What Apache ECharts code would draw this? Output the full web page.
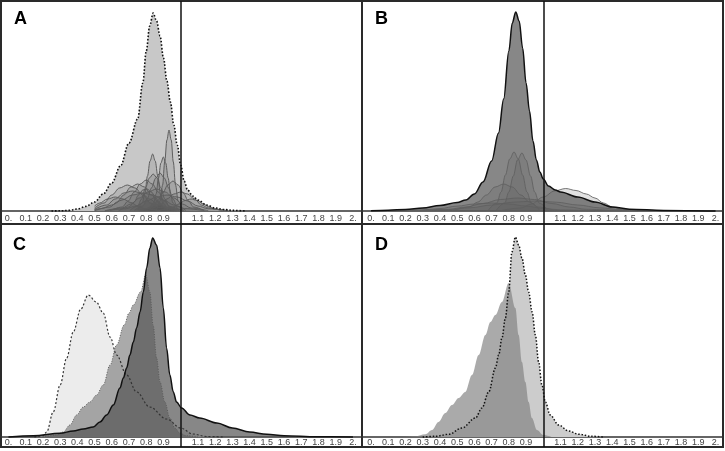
<!DOCTYPE html>
<html><head><meta charset="utf-8">
<script src="https://cdn.jsdelivr.net/npm/echarts@6/dist/echarts.min.js"></script>
<style>html,body{margin:0;padding:0;background:#fff}#c{width:725px;height:451px}</style>
</head><body><div id="c"></div>
<script>
// ---------- tick labels ----------
const xTickValues = [0,0.1,0.2,0.3,0.4,0.5,0.6,0.7,0.8,0.9,1.1,1.2,1.3,1.4,1.5,1.6,1.7,1.8,1.9,2];
const xTickLabels = ['0.','0.1','0.2','0.3','0.4','0.5','0.6','0.7','0.8','0.9','1.1','1.2','1.3','1.4','1.5','1.6','1.7','1.8','1.9','2.'];
const panelLetters = ['A','B','C','D'];
const refLine = 1;

// ---------- Panel A ----------
const aMain = [[0.25,0],[0.3,0.2],[0.35,0.6],[0.4,2],[0.45,4.6],[0.5,9],[0.55,17],[0.6,28],[0.65,45],[0.7,68],[0.75,92],[0.78,128],[0.8,160],[0.82,185],[0.84,198],[0.86,190],[0.88,175],[0.9,153],[0.92,130],[0.94,109],[0.96,86],[0.98,66],[1.0,46],[1.02,30],[1.04,21],[1.07,15],[1.1,11],[1.15,6],[1.2,3],[1.25,1.5],[1.3,0.6],[1.38,0]];
const aComp1 = [[0.86,1],[0.88,10],[0.895,26],[0.907,49],[0.92,71],[0.932,81],[0.945,71],[0.957,49],[0.97,26],[0.985,10],[1.01,1]];
const aComp2 = [[0.75,1],[0.777,8],[0.792,18],[0.807,35],[0.822,50],[0.837,57],[0.852,50],[0.867,35],[0.882,18],[0.897,8],[0.925,1]];
const aComp3 = [[0.815,1],[0.843,8],[0.857,17],[0.871,33],[0.885,48],[0.899,54],[0.913,48],[0.927,33],[0.941,17],[0.955,8],[0.985,1]];
const aComp4 = [[0.705,0.5],[0.75,5],[0.773,12],[0.795,23],[0.818,33],[0.84,37],[0.863,33],[0.885,23],[0.908,12],[0.93,5],[0.975,0.5]];
const aComp5 = [[0.73,0.5],[0.78,5],[0.805,12],[0.83,23],[0.855,33],[0.88,38],[0.905,33],[0.93,23],[0.955,12],[0.98,5],[1.03,0.5]];
const aComp6 = [[0.5,3],[0.555,8],[0.6,16],[0.645,23],[0.69,26],[0.735,23],[0.78,16],[0.825,8],[0.87,3.6],[0.96,0.3]];
const aComp7 = [[0.5,0.3],[0.59,4],[0.63,9],[0.67,16],[0.71,24],[0.75,27],[0.79,24],[0.83,16],[0.87,9],[0.91,4],[0.99,0.3]];
const aComp8 = [[0.59,0.3],[0.66,4],[0.695,10],[0.73,19],[0.765,27],[0.8,31],[0.835,27],[0.87,19],[0.905,10],[0.94,4],[1.01,0.3]];
const aComp9 = [[0.775,0.3],[0.835,4],[0.865,10],[0.895,18],[0.925,26],[0.955,30],[0.985,26],[1.015,18],[1.045,10],[1.075,4],[1.135,0.3]];
const aComp10 = [[0.76,0.2],[0.84,3],[0.88,6],[0.92,12],[0.96,17],[1.0,19],[1.04,17],[1.08,12],[1.12,6],[1.16,3],[1.24,0.2]];
const aComp11 = [[0.5,1.2],[0.54,2.5],[0.6,6],[0.66,11],[0.72,16],[0.78,18],[0.84,16],[0.9,11],[0.96,6],[1.02,2.5],[1.14,0.2]];
const aComp12 = [[0.56,0.2],[0.66,3],[0.71,7],[0.76,13],[0.81,19],[0.86,22],[0.91,19],[0.96,13],[1.01,7],[1.06,3],[1.16,0.2]];
const aComp13 = [[0.5,1.8],[0.57,6],[0.62,12],[0.67,18],[0.72,20],[0.77,18],[0.82,12],[0.87,6],[0.92,2.7],[1.02,0.2]];
const aComp14 = [[0.56,0.2],[0.68,2.2],[0.74,5],[0.8,10],[0.86,14],[0.92,16],[0.98,14],[1.04,10],[1.1,5],[1.16,2.2],[1.28,0.2]];
const aComp15 = [[0.5,5],[0.53,8],[0.575,12],[0.62,14],[0.665,12],[0.71,8.5],[0.755,4.5],[0.8,2],[0.89,0.2]];
const aComp16 = [[0.85,0.1],[0.92,1.7],[0.955,4],[0.99,7],[1.025,10.5],[1.06,12],[1.095,10.5],[1.13,7],[1.165,4],[1.2,1.7],[1.27,0.1]];
const aComp17 = [[0.64,0.3],[0.7,4],[0.73,9],[0.755,16],[0.78,21],[0.805,22],[0.83,19],[0.855,13],[0.88,7],[0.91,3],[0.97,0.3]];

// ---------- Panel B ----------
const bMain = [[0,0.3],[0.1,0.8],[0.2,1.5],[0.3,3],[0.4,5.5],[0.5,8.5],[0.55,11],[0.6,17],[0.65,29],[0.7,50],[0.74,78],[0.77,112],[0.8,160],[0.82,188],[0.84,199],[0.86,190],[0.88,163],[0.9,128],[0.92,100],[0.94,70],[0.96,51],[0.98,39],[1.0,32],[1.03,25],[1.07,21],[1.1,19],[1.2,14],[1.3,9],[1.4,4],[1.5,1.8],[1.7,0.5],[2,0]];
const bComp1 = [[0.68,0.6],[0.73,8],[0.755,19],[0.78,36],[0.805,52],[0.83,59],[0.855,52],[0.88,36],[0.905,19],[0.93,8],[0.98,0.6]];
const bComp2 = [[0.726,0.6],[0.776,8],[0.8,19],[0.826,35],[0.85,51],[0.876,58],[0.9,51],[0.926,35],[0.95,19],[0.976,8],[1.026,0.6]];
const bComp3 = [[0.47,0.3],[0.57,4],[0.62,9],[0.67,16],[0.72,24],[0.77,27],[0.82,24],[0.87,16],[0.92,9],[0.97,4],[1.07,0.3]];
const bComp4 = [[0.75,0.3],[0.87,3],[0.93,7],[1.0,14],[1.065,20],[1.13,22.5],[1.19,20.5],[1.25,17],[1.3,13],[1.35,8],[1.4,4],[1.47,1],[1.55,0]];
const bComp5 = [[0.25,0.2],[0.45,1.7],[0.55,4],[0.65,7.5],[0.75,11.5],[0.85,13],[0.95,11.5],[1.05,7.5],[1.15,4],[1.25,1.7],[1.45,0.2]];
const bComp6 = [[0.2,0.1],[0.45,1.4],[0.575,3.2],[0.7,6],[0.825,8.8],[0.95,10],[1.075,8.8],[1.2,6],[1.325,3.2],[1.45,1.4],[1.7,0.1]];
const bComp7 = [[0.1,0.1],[0.3,1.1],[0.4,2.5],[0.5,4.9],[0.6,7],[0.7,8],[0.8,7],[0.9,4.9],[1.0,2.5],[1.1,1.1],[1.3,0.1]];

// ---------- Panel C ----------
const cLight = [[0.15,0],[0.2,1.3],[0.222,5],[0.26,25],[0.3,52],[0.338,79],[0.376,105],[0.42,128],[0.463,142],[0.51,135],[0.55,124],[0.59,100],[0.628,82],[0.686,62],[0.744,45],[0.82,30],[0.918,18],[1.0,9],[1.07,3],[1.15,0.5],[1.25,0]];
const cMedium = [[0.2,0],[0.28,2],[0.318,5],[0.357,12],[0.396,22],[0.434,30],[0.473,35],[0.512,42],[0.55,52],[0.59,72],[0.628,92],[0.672,112],[0.7,124],[0.725,132],[0.767,145],[0.797,162],[0.821,145],[0.84,112],[0.86,79],[0.88,55],[0.908,35],[0.937,19],[0.966,9],[0.995,4],[1.03,1.3],[1.1,0]];
const cDark = [[0,0],[0.145,1.3],[0.3,3.7],[0.376,6],[0.434,8],[0.492,10],[0.531,15],[0.57,22],[0.609,32],[0.647,49],[0.667,59],[0.686,69],[0.705,82],[0.725,95],[0.744,109],[0.764,125],[0.783,145],[0.802,169],[0.821,189],[0.837,199],[0.86,192],[0.88,169],[0.899,129],[0.918,89],[0.937,62],[0.957,45],[0.976,35],[1.005,29],[1.054,22],[1.11,19],[1.21,14],[1.3,9],[1.4,5],[1.5,2.7],[1.6,1.3],[1.79,0.3],[2,0]];

// ---------- Panel D ----------
const dLight = [[0.3,0],[0.373,0.7],[0.451,2.7],[0.528,9],[0.606,19],[0.644,29],[0.683,45],[0.722,69],[0.741,82],[0.76,99],[0.78,119],[0.799,145],[0.818,185],[0.838,200],[0.857,192],[0.876,179],[0.896,162],[0.915,145],[0.935,125],[0.954,102],[0.973,75],[0.992,52],[1.012,35],[1.04,22],[1.089,12],[1.147,6],[1.205,2.7],[1.28,0.7],[1.35,0]];
const dMedium = [[0.2,0],[0.257,0.7],[0.315,2.7],[0.354,7],[0.392,15],[0.431,24],[0.47,32],[0.509,39],[0.547,45],[0.586,62],[0.625,82],[0.664,102],[0.693,115],[0.722,122],[0.76,135],[0.799,154],[0.838,129],[0.857,102],[0.876,75],[0.896,55],[0.915,35],[0.934,19],[0.963,7],[1.0,2],[1.05,0]];

// ---------- build ----------
const chart = echarts.init(document.getElementById('c'), null, {renderer:'canvas'});
const FONT = 'Liberation Sans, Arial, sans-serif';
const gridRects = [
  {left:1, top:1, width:361, height:223},
  {left:362, top:1, width:361, height:223},
  {left:1, top:224, width:361, height:223},
  {left:362, top:224, width:361, height:223}
];
const xRanges = [[-0.0433,2.0525],[-0.0525,2.0433],[-0.0433,2.0525],[-0.0525,2.0433]];
const yRanges = [[-13,210],[-13,210],[-10,213],[-10,213]];
const axisOffsets = [-13,-13,-10,-10];
const labelMargins = [3,3,1,1];
const letterPos = [[14,10],[375,10],[13,236],[375,236]];

function fmt(v){ const i = xTickValues.findIndex(t => Math.abs(t - v) < 1e-6); return i >= 0 ? xTickLabels[i] : ''; }

function areaSeries(g, data, fill){
  return {type:'line', xAxisIndex:g, yAxisIndex:g, data, smooth:0.35, smoothMonotone:'x', symbol:'none', silent:true,
    lineStyle:{width:0, opacity:0}, areaStyle:{color:fill, opacity:1}};
}
function lineSeries(g, data, color, width, type){
  return {type:'line', xAxisIndex:g, yAxisIndex:g, data, smooth:0.35, smoothMonotone:'x', symbol:'none', silent:true,
    lineStyle:{color, width, type}};
}
function compSeries(g, data, color, fill, width){
  return {type:'line', xAxisIndex:g, yAxisIndex:g, data, smooth:0.35, smoothMonotone:'x', symbol:'none', silent:true,
    lineStyle:{color, width}, areaStyle:{color:fill, opacity:1}};
}
function refSeries(g){
  return {type:'line', xAxisIndex:g, yAxisIndex:g, data:[], silent:true, z:10,
    markLine:{silent:true, symbol:['none','none'], label:{show:false}, animation:false,
      lineStyle:{color:'#111', width:1.5, type:'solid'}, data:[{xAxis:refLine}]}};
}

const series = [];
// A
series.push(areaSeries(0, aMain, '#c8c8c8'));
[aComp1,aComp2,aComp3,aComp4,aComp5,aComp6,aComp7,aComp8,aComp9,aComp10,aComp11,aComp12,aComp13,aComp14,aComp15,aComp16,aComp17]
  .forEach(d => series.push(compSeries(0, d, '#5e5e5e', 'rgba(80,80,80,0.15)', 1)));
series.push(lineSeries(0, aMain, '#111', 1.6, [1.6,1.8]));
series.push(refSeries(0));
// B
[bComp1,bComp2,bComp3,bComp4,bComp5,bComp6,bComp7]
  .forEach(d => series.push(compSeries(1, d, 'rgba(95,95,95,0.85)', 'rgba(120,120,120,0.22)', 1)));
series.push(areaSeries(1, bMain, 'rgba(84,84,84,0.7)'));
series.push(lineSeries(1, bMain, '#111', 1.5, 'solid'));
series.push(refSeries(1));
// C
series.push(areaSeries(2, cLight, '#ececec'));
series.push(areaSeries(2, cMedium, 'rgba(128,128,128,0.667)'));
series.push(areaSeries(2, cDark, 'rgba(84,84,84,0.7)'));
series.push(lineSeries(2, cLight, '#333', 1.2, [2,2]));
series.push(lineSeries(2, cMedium, '#555', 0.9, [1,1.5]));
series.push(lineSeries(2, cDark, '#111', 1.5, 'solid'));
series.push(refSeries(2));
// D
series.push(areaSeries(3, dLight, '#cccccc'));
series.push(areaSeries(3, dMedium, 'rgba(128,128,128,0.667)'));
series.push(lineSeries(3, dLight, '#111', 1.5, [1.5,1.8]));
series.push(refSeries(3));

const option = {
  animation:false,
  backgroundColor:'#fff',
  title: panelLetters.map((t,i) => ({text:t, left:letterPos[i][0], top:letterPos[i][1], padding:0,
    textStyle:{fontFamily:FONT, fontSize:18, fontWeight:'bold', color:'#000'}})),
  grid: gridRects.map(r => Object.assign({show:true, borderColor:'#2a2a2a', borderWidth:2, backgroundColor:'rgba(0,0,0,0)', containLabel:false, outerBoundsMode:'none'}, r)),
  xAxis: gridRects.map((r,i) => ({type:'value', gridIndex:i, min:xRanges[i][0], max:xRanges[i][1],
    position:'bottom', offset:axisOffsets[i],
    axisLine:{show:true, onZero:false, lineStyle:{color:'#333', width:1.5}},
    axisTick:{show:false}, splitLine:{show:false},
    axisLabel:{show:true, customValues:xTickValues, formatter:fmt, margin:labelMargins[i],
      fontFamily:FONT, fontSize:9, color:'#444'}})),
  yAxis: gridRects.map((r,i) => ({type:'value', gridIndex:i, min:yRanges[i][0], max:yRanges[i][1], show:false,
    splitLine:{show:false}})),
  series
};
chart.setOption(option);
</script></body></html>
